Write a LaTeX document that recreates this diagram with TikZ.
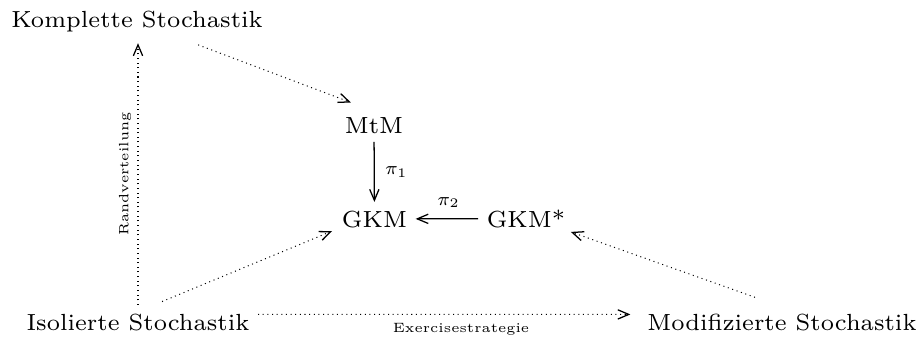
\documentclass[tikz,border=0pt]{standalone}
\usetikzlibrary{arrows.meta}
\begin{document}
\begin{tikzpicture}[x=0.237pt,y=-0.237pt,
  obj/.style={font=\fontsize{7}{8}\selectfont, scale=0.79, transform shape, inner sep=2.4pt, anchor=base},
  tip/.style={-{Straight Barb[length=2.6pt,width=2.2pt,line width=0.3pt]}},
  dotarrow/.style={tip, line width=0.24pt, dash pattern=on 0.24pt off 0.86pt},
  solidarrow/.style={tip, line width=0.3pt},
  lab/.style={font=\fontsize{3.2}{4}\selectfont},
  pilab/.style={font=\fontsize{7}{8}\selectfont, scale=0.62, transform shape}]
\useasboundingbox (0,0) rectangle (917,337);
\node[obj] (komp) at (137,27.5) {Komplette Stochastik};
\node[obj] (mtm) at (374,133) {MtM};
\node[obj] (gkm) at (374.5,227) {GKM};
\node[obj] (gkms) at (526,227) {GKM*};
\node[obj] (iso) at (138,330) {Isolierte Stochastik};
\node[obj] (mod) at (782,330) {Modifizierte Stochastik};

\draw[dotarrow] ([xshift=14.5pt,yshift=-1pt]komp.south) -- ([xshift=3.5pt,yshift=1.4pt]mtm.north west);
\draw[solidarrow] (mtm) -- node[pilab, right, inner sep=4pt] {$\pi_1$} (gkm);
\draw[solidarrow] (gkms) -- node[pilab, above, inner sep=4pt, xshift=0.6pt] {$\pi_2$} (gkm);
\draw[dotarrow] ([xshift=5.7pt,yshift=0.8pt]iso.north) -- ([xshift=-0.3pt,yshift=1.2pt]gkm.south west);
\draw[dotarrow] ([xshift=-6.4pt,yshift=1.8pt]mod.north) -- ([xshift=-0.7pt,yshift=1pt]gkms.south east);
\draw[dotarrow] (iso.north) -- node[lab, rotate=90, anchor=south, inner sep=1.5pt] {Randverteilung} ([yshift=-0.6pt]iso.north |- komp.south);
\draw[dotarrow, shorten >=2pt] ([yshift=1.8pt]iso.east) -- node[lab, anchor=north, pos=0.533, inner sep=2pt] {Exercisestrategie} ([yshift=1.8pt]mod.west);
\end{tikzpicture}
\end{document}
